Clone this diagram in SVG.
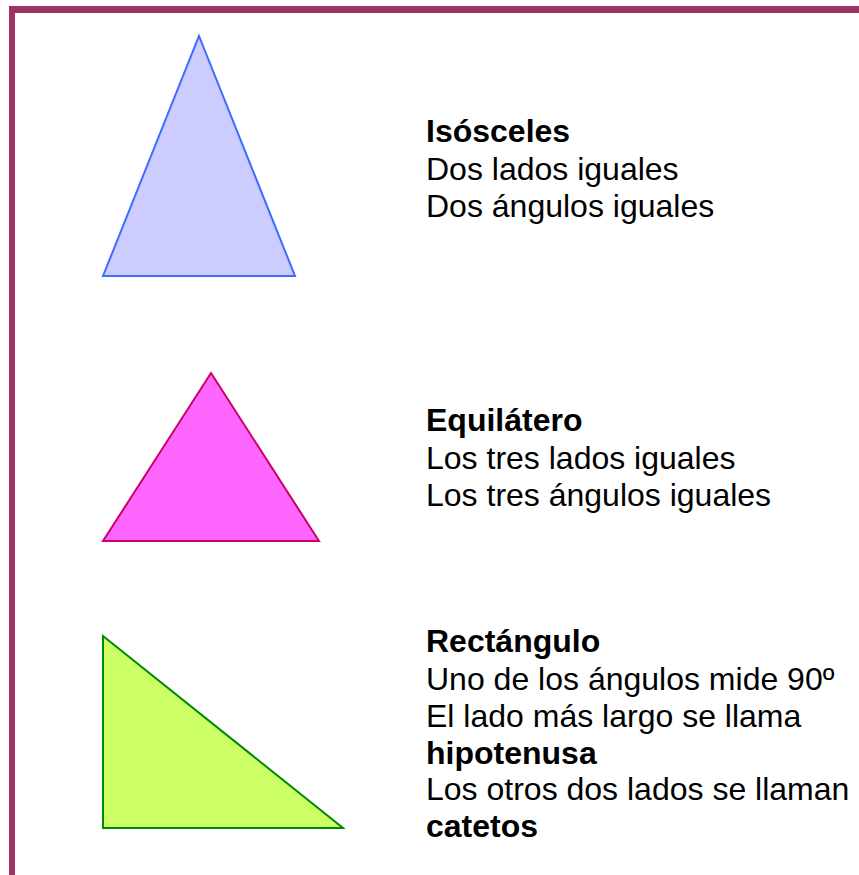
<svg xmlns="http://www.w3.org/2000/svg" width="859" height="875" viewBox="0 0 859 875">
<style>
.t{font-family:"Liberation Sans",Arial,sans-serif;font-size:32px;fill:#000}
.b{font-weight:bold}
.tri{stroke-width:2;stroke-linejoin:miter}
</style>
<rect width="859" height="875" fill="#fff"/>
<g id="border" fill="#9f3363">
<rect x="9" y="6" width="850" height="7"/>
<rect x="9" y="6" width="6" height="869"/>
</g>
<g id="isosceles">
<polygon class="tri" points="199,36 295,276 103,276" fill="#ccccff" stroke="#3b6cff"/>
<text class="t" x="426" y="142"><tspan class="b">Isósceles</tspan><tspan x="426" y="180">Dos lados iguales</tspan><tspan x="426" y="217">Dos ángulos iguales</tspan></text>
</g>
<g id="equilatero">
<polygon class="tri" points="211,373 319,541 103,541" fill="#ff66ff" stroke="#cc0066"/>
<text class="t" x="426" y="431"><tspan class="b">Equilátero</tspan><tspan x="426" y="469">Los tres lados iguales</tspan><tspan x="426" y="506">Los tres ángulos iguales</tspan></text>
</g>
<g id="rectangulo">
<polygon class="tri" points="103,636 343,828 103,828" fill="#ccff66" stroke="#008a00"/>
<text class="t" x="426" y="652"><tspan class="b">Rectángulo</tspan><tspan x="426" y="690">Uno de los ángulos mide 90º</tspan><tspan x="426" y="727">El lado más largo se llama</tspan><tspan class="b" x="426" y="764">hipotenusa</tspan><tspan x="426" y="800">Los otros dos lados se llaman</tspan><tspan class="b" x="426" y="837">catetos</tspan></text>
</g>
</svg>
